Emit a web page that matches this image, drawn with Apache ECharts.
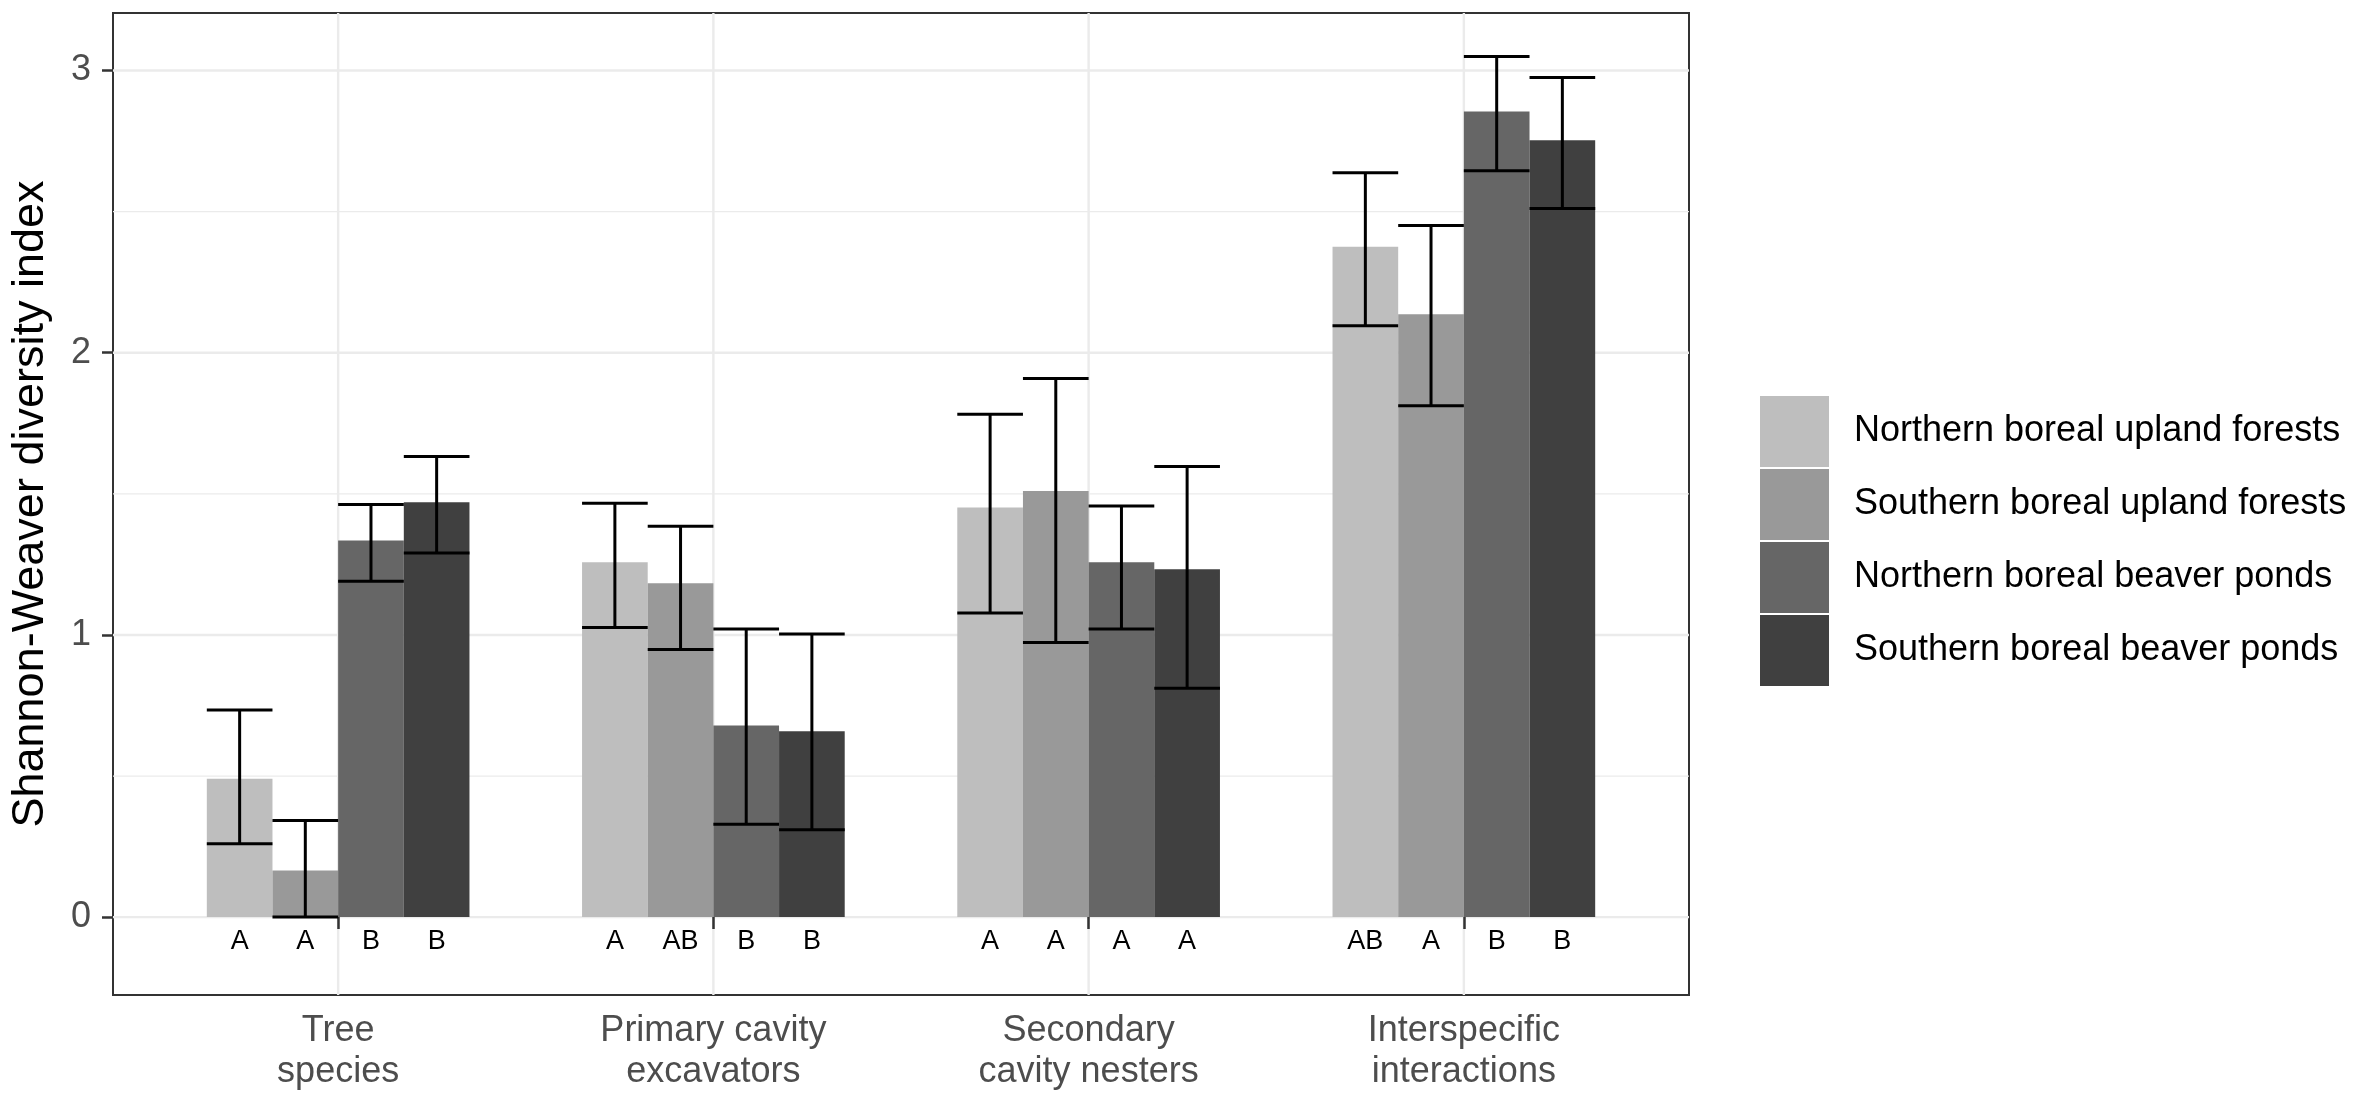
<!DOCTYPE html>
<html>
<head>
<meta charset="utf-8">
<script src="https://cdn.jsdelivr.net/npm/echarts@6/dist/echarts.min.js"></script>
<style>
    html, body { margin: 0; padding: 0; background: #fff; }
    #chart { width: 2357px; height: 1104px; }
</style>
</head>
<body>
<div id="chart"></div>
<script>
// categories on the x axis
var categories = ['Tree\nspecies', 'Primary cavity\nexcavators', 'Secondary\ncavity nesters', 'Interspecific\ninteractions'];
var groupPos = [1, 2, 3, 4];
var seriesNames = ['Northern boreal upland forests', 'Southern boreal upland forests', 'Northern boreal beaver ponds', 'Southern boreal beaver ponds'];
var seriesColors = ['#bebebe', '#999999', '#666666', '#404040'];

// mean Shannon-Weaver index per habitat
var meanNU = [0.49, 1.258, 1.452, 2.376];
var meanSU = [0.165, 1.183, 1.51, 2.136];
var meanNB = [1.335, 0.679, 1.258, 2.855];
var meanSB = [1.47, 0.659, 1.233, 2.753];

// error bar ends
var lowNU = [0.26, 1.026, 1.078, 2.096];
var lowSU = [0.0, 0.948, 0.973, 1.812];
var lowNB = [1.19, 0.329, 1.021, 2.645];
var lowSB = [1.29, 0.31, 0.811, 2.511];
var highNU = [0.734, 1.467, 1.782, 2.638];
var highSU = [0.342, 1.385, 1.909, 2.451];
var highNB = [1.462, 1.021, 1.457, 3.05];
var highSB = [1.632, 1.003, 1.597, 2.975];

// significance letters
var letNU = ['A', 'A', 'A', 'AB'];
var letSU = ['A', 'AB', 'A', 'A'];
var letNB = ['B', 'B', 'A', 'B'];
var letSB = ['B', 'B', 'A', 'B'];

// y axis ticks and grid
var yTicks = [0, 1, 2, 3];
var yMinor = [0.5, 1.5, 2.5];

var means = [meanNU, meanSU, meanNB, meanSB];
var lows = [lowNU, lowSU, lowNB, lowSB];
var highs = [highNU, highSU, highNB, highSB];
var letters = [letNU, letSU, letNB, letSB];

var xMin = 0.4, xMax = 4.6, yMin = -0.276, yMax = 3.204;
var barUnit = 0.175;   // width of one bar in x units
var letterY = -0.085;
var font = "'Liberation Sans', Arial, Helvetica, sans-serif";

var myChart = echarts.init(document.getElementById('chart'));

// error bar / letter data: [group, seriesIdx, low, high]
var errData = [];
var letterData = [];
var letterText = [];
for (var s = 0; s < 4; s++) {
    for (var g = 0; g < groupPos.length; g++) {
        errData.push([groupPos[g], s, lows[s][g], highs[s][g]]);
        letterData.push([groupPos[g], s]);
        letterText.push(letters[s][g]);
    }
}

var gridData = [];
yTicks.forEach(function (v) { gridData.push([xMin, v, 1]); });
yMinor.forEach(function (v) { gridData.push([xMin, v, 0]); });

var series = [];
// background grid lines
series.push({
    type: 'custom',
    silent: true,
    z: 0,
    data: gridData,
    renderItem: function (params, api) {
        var y = api.value(1);
        var a = api.coord([xMin, y]), b = api.coord([xMax, y]);
        return {
            type: 'line',
            shape: { x1: a[0], y1: a[1], x2: b[0], y2: b[1] },
            style: { stroke: '#ebebeb', lineWidth: api.value(2) ? 2.4 : 1.2 }
        };
    }
});
series.push({
    type: 'custom',
    silent: true,
    z: 0,
    data: groupPos.map(function (x) { return [x, yMin]; }),
    renderItem: function (params, api) {
        var x = api.value(0);
        var a = api.coord([x, yMin]), b = api.coord([x, yMax]);
        return {
            type: 'line',
            shape: { x1: a[0], y1: a[1], x2: b[0], y2: b[1] },
            style: { stroke: '#ebebeb', lineWidth: 2.4 }
        };
    }
});

for (var i = 0; i < 4; i++) {
    series.push({
        name: seriesNames[i],
        type: 'bar',
        z: 2,
        barWidth: '17.5%',
        barGap: '0%',
        itemStyle: { color: seriesColors[i] },
        data: groupPos.map(function (x, k) { return [x, means[i][k]]; })
    });
}

// error bars
series.push({
    type: 'custom',
    silent: true,
    z: 3,
    data: errData,
    renderItem: function (params, api) {
        var cx = api.value(0) + (api.value(1) - 1.5) * barUnit;
        var lo = api.value(2), hi = api.value(3);
        var t = api.coord([cx, hi]), b = api.coord([cx, lo]);
        var tl = api.coord([cx - barUnit / 2, hi]), tr = api.coord([cx + barUnit / 2, hi]);
        var bl = api.coord([cx - barUnit / 2, lo]), br = api.coord([cx + barUnit / 2, lo]);
        var st = { stroke: '#000', lineWidth: 3 };
        return {
            type: 'group',
            children: [
                { type: 'line', shape: { x1: t[0], y1: t[1], x2: b[0], y2: b[1] }, style: st },
                { type: 'line', shape: { x1: tl[0], y1: tl[1], x2: tr[0], y2: tr[1] }, style: st },
                { type: 'line', shape: { x1: bl[0], y1: bl[1], x2: br[0], y2: br[1] }, style: st }
            ]
        };
    }
});

// letters under the bars
series.push({
    type: 'custom',
    silent: true,
    z: 3,
    data: letterData,
    renderItem: function (params, api) {
        var cx = api.value(0) + (api.value(1) - 1.5) * barUnit;
        var p = api.coord([cx, letterY]);
        return {
            type: 'text',
            x: p[0],
            y: p[1],
            style: {
                text: letterText[params.dataIndex],
                fill: '#000',
                font: '27px ' + font,
                align: 'center',
                verticalAlign: 'middle'
            }
        };
    }
});

var option = {
    animation: false,
    backgroundColor: '#fff',
    textStyle: { fontFamily: font },
    grid: {
        left: 111,
        right: 668,
        top: 13,
        bottom: 109,
        show: true,
        backgroundColor: '#fff',
        borderColor: '#333333',
        borderWidth: 2
    },
    legend: {
        orient: 'vertical',
        left: 1760,
        top: 396,
        padding: 0,
        itemWidth: 69,
        itemHeight: 71,
        itemGap: 2,
        icon: 'rect',
        data: seriesNames,
        textStyle: {
            fontSize: 36,
            color: '#000',
            fontFamily: font,
            padding: [0, 0, 0, 20]
        }
    },
    xAxis: {
        type: 'value',
        min: xMin,
        max: xMax,
        axisLine: { show: false },
        splitLine: { show: false },
        axisTick: {
            show: true,
            customValues: groupPos,
            length: 12,
            lineStyle: { color: '#333333', width: 2.5 }
        },
        axisLabel: {
            customValues: groupPos,
            margin: 16,
            fontSize: 36,
            lineHeight: 41,
            color: '#4d4d4d',
            fontFamily: font,
            formatter: function (v) { return categories[Math.round(v) - 1]; }
        }
    },
    yAxis: {
        type: 'value',
        min: yMin,
        max: yMax,
        name: 'Shannon-Weaver diversity index',
        nameLocation: 'middle',
        nameRotate: 90,
        nameGap: 60,
        nameTextStyle: { fontSize: 45, color: '#000', fontFamily: font },
        axisLine: { show: false },
        splitLine: { show: false },
        axisTick: {
            show: true,
            customValues: yTicks,
            length: 11,
            lineStyle: { color: '#333333', width: 2.5 }
        },
        axisLabel: {
            customValues: yTicks,
            margin: 22,
            fontSize: 36,
            color: '#4d4d4d',
            fontFamily: font
        }
    },
    series: series
};

myChart.setOption(option);
</script>
</body>
</html>
